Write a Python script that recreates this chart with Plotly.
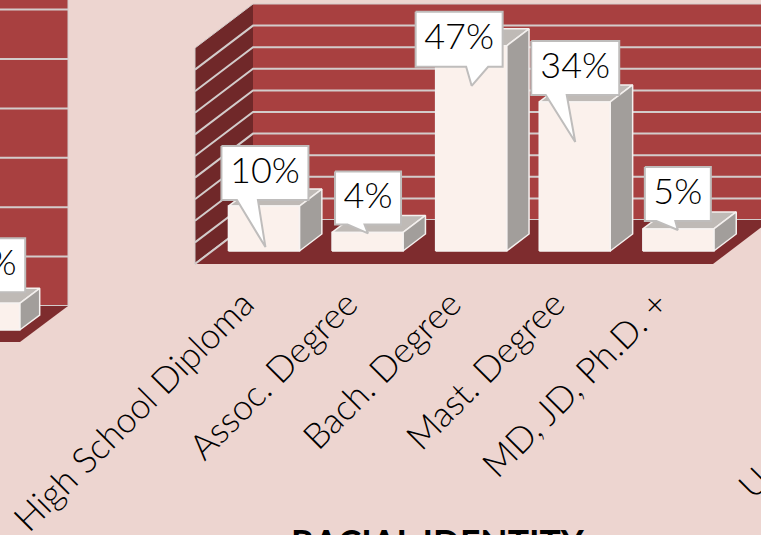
import plotly.graph_objects as go

# ---------- data ----------
categories = ["High School Diploma", "Assoc. Degree", "Bach. Degree", "Mast. Degree", "MD, JD, Ph.D. +"]
values = [10.4, 4.3, 47.5, 34.5, 5.1]
value_labels = ["10%", "4%", "47%", "34%", "5%"]
grid_values = [5, 10, 15, 20, 25, 30, 35, 40, 45, 50]

left_values = [2.7]
left_labels = ["3%"]
left_grid_values = [5, 10, 15, 20, 25, 30, 35]

# ---------- style / geometry ----------
W, H = 761, 535
BG = "#EDD5D0"; BACK = "#A84040"; SIDE = "#702829"; FLOOR = "#7E2C2E"; GRID = "#D3CCCB"
FRONT = "#FBF1EC"; BSIDE = "#A29E9B"; BTOP = "#BFBAB6"; BOX = "#BFBDBC"
FONT = "Lato Light, Lato"

class Chart:
    def __init__(s, xa, ya, step, x0_px, unit, y0_px, depth_x, depth_y):
        s.xa, s.ya, s.step, s.x0, s.unit, s.y0 = xa, ya, step, x0_px, unit, y0_px
        s.dx, s.dy = depth_x / step, depth_y / unit
    def xrange(s):
        return [(0 - s.x0) / s.step, (W - s.x0) / s.step]
    def yrange(s):
        return [(s.y0 - H) / s.unit, s.y0 / s.unit]
    def p(s, cat, val, depth=0.0):
        return cat + depth * s.dx, val + depth * s.dy

main = Chart("x", "y", 103.6, 246.8, 4.32, 264, 58, 44)
left = Chart("x2", "y2", 103.6, -31.8, 9.88, 342, 48, 36)

BAR_W = 71 / 103.6

traces = []
def poly(chart, polys, fill, line=None, lw=0):
    xs, ys = [], []
    for pl in polys:
        for pt in list(pl) + [pl[0]]:
            xs.append(pt[0]); ys.append(pt[1])
        xs.append(None); ys.append(None)
    traces.append(go.Scatter(x=xs, y=ys, xaxis=chart.xa, yaxis=chart.ya, mode="lines",
                             fill="toself", fillcolor=fill,
                             line=dict(color=line or fill, width=lw), hoverinfo="skip", showlegend=False))
def lines(chart, segs, color, lw):
    xs, ys = [], []
    for a in segs:
        for pt in a:
            xs.append(pt[0]); ys.append(pt[1])
        xs.append(None); ys.append(None)
    traces.append(go.Scatter(x=xs, y=ys, xaxis=chart.xa, yaxis=chart.ya, mode="lines",
                             line=dict(color=color, width=lw), hoverinfo="skip", showlegend=False))

def draw_chart(ch, cats_idx, vals, labels, grid, callouts, d0, d1):
    lo, hi = cats_idx[0] - 0.5, cats_idx[-1] + 0.5
    top = grid[-1]
    p = ch.p
    # walls and floor
    poly(ch, [[p(lo, 0, 1), p(hi, 0, 1), p(hi, top, 1), p(lo, top, 1)]], BACK)
    poly(ch, [[p(lo, 0, 0), p(lo, 0, 1), p(lo, top, 1), p(lo, top, 0)]], SIDE)
    segs = [[p(lo, g, 0), p(lo, g, 1), p(hi, g, 1)] for g in [0] + grid[:-1]]
    lines(ch, segs, GRID, 2)
    edges = [[p(lo, top, 0), p(lo, top, 1), p(hi, top, 1), p(hi, 0, 1)], [p(lo, 0, 0), p(lo, top, 0)]]
    lines(ch, edges, GRID, 1)
    poly(ch, [[p(lo, 0, 0), p(hi, 0, 0), p(hi, 0, 1), p(lo, 0, 1)]], FLOOR)
    lines(ch, [[p(lo, 0, 0), p(lo, 0, 1)]], GRID, 2)
    # bars
    tops, sides, fronts = [], [], []
    for c, v in zip(cats_idx, vals):
        a, b = c - BAR_W / 2, c + BAR_W / 2
        fronts.append([p(a, 0, d0), p(b, 0, d0), p(b, v, d0), p(a, v, d0)])
        sides.append([p(b, 0, d0), p(b, 0, d1), p(b, v, d1), p(b, v, d0)])
        tops.append([p(a, v, d0), p(b, v, d0), p(b, v, d1), p(a, v, d1)])
    poly(ch, tops, BTOP, "#F4F0EE", 1.5)
    poly(ch, sides, BSIDE, "#F4F0EE", 1.5)
    poly(ch, fronts, FRONT, "#F7F3F1", 1.5)
    # callouts: offsets in pixels from the middle of the bar's front top edge
    boxes, tx, ty = [], [], []
    for c, v, o in zip(cats_idx, vals, callouts):
        cx, cy = p(c, v, d0)
        def u(dx, dy):
            return cx + dx / ch.step, cy - dy / ch.unit
        l, r, t, b_, bl, br, tipx, tipy = o
        boxes.append([u(l, t), u(r, t), u(r, b_), u(br, b_), u(tipx, tipy), u(bl, b_), u(l, b_)])
        m = u((l + r) / 2, (t + b_) / 2 + 1)
        tx.append(m[0]); ty.append(m[1])
    poly(ch, boxes, "#FFFFFF", BOX, 2)
    traces.append(go.Scatter(x=tx, y=ty, xaxis=ch.xa, yaxis=ch.ya, mode="text", text=labels,
                             textposition="middle center",
                             textfont=dict(family=FONT, size=36, color="#000000"),
                             hoverinfo="skip", showlegend=False))

main_callouts = [
    (-42.5, 44.5, -60, -6, -27, -6, 1.5, 41),
    (-32.5, 33.5, -61, -8, -20, -3, 0.5, 1),
    (-55.5, 31.5, -34, 21, -5, 17, 0.5, 40),
    (-43.5, 44.5, -61, -7, -29, -8, 0.5, 40),
    (-33.5, 32.5, -62, -8, -22, -3, -0.5, 1),
]
left_callouts = [(-25, 41, -65, -11, -22, -3, 0, 1)]

draw_chart(left, [0], left_values, left_labels, left_grid_values, left_callouts, 1 / 3, 0.75)
draw_chart(main, list(range(len(categories))), values, value_labels, grid_values, main_callouts, 13 / 44, 30 / 44)

fig = go.Figure(traces)

hidden = dict(visible=False, fixedrange=True)
tick_y_px = 275
tick_shift = -0.03
fig.update_layout(
    width=W, height=H, margin=dict(l=0, r=0, t=0, b=0, autoexpand=False),
    paper_bgcolor=BG, plot_bgcolor=BG, showlegend=False,
    xaxis=dict(range=main.xrange(), domain=[0, 1], anchor="free", position=(H - tick_y_px) / H,
               automargin=False,
               tickmode="array", tickvals=[i + tick_shift for i in range(len(categories))], ticktext=categories,
               tickangle=-45, ticks="", showgrid=False, zeroline=False, showline=False,
               tickfont=dict(family=FONT, size=35.5, color="#000000"), fixedrange=True),
    yaxis=dict(range=main.yrange(), domain=[0, 1], anchor="x", **hidden),
    xaxis2=dict(range=left.xrange(), domain=[0, 1], anchor="y2", overlaying="x", **hidden),
    yaxis2=dict(range=left.yrange(), domain=[0, 1], anchor="x2", overlaying="y", **hidden),
    annotations=[
        dict(text="<b>RACIAL IDENTITY</b>", xref="paper", yref="paper", x=438 / W, y=(H - 519) / H,
             xanchor="center", yanchor="top", showarrow=False,
             font=dict(family="Lato", size=35.5, color="#000000")),
        dict(text="U", xref="paper", yref="paper", x=752 / W, y=(H - 482) / H,
             xanchor="center", yanchor="middle", textangle=-45, showarrow=False,
             font=dict(family=FONT, size=35, color="#000000")),
    ],
)
fig.write_html("out.html", config=dict(displayModeBar=False),
               post_script="document.body.style.margin='0';document.documentElement.style.overflow='hidden';")
